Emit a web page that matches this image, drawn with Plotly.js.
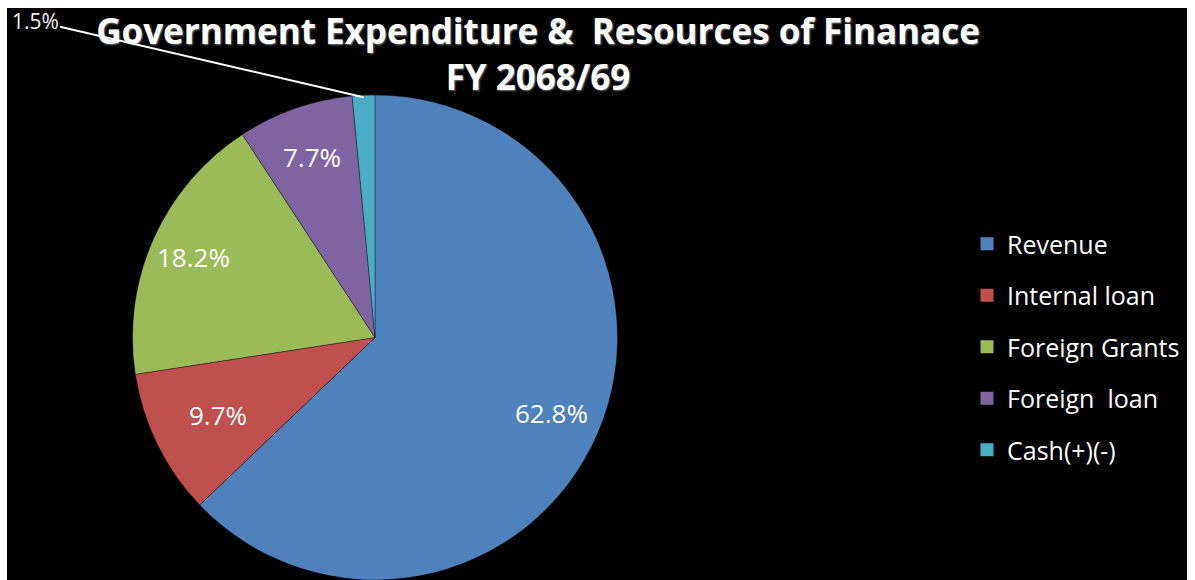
<!DOCTYPE html>
<html>
<head>
<meta charset="utf-8">
<script src="https://cdn.plot.ly/plotly-3.0.1.min.js"></script>
<style>
  html, body { margin: 0; padding: 0; background: #ffffff; width: 1195px; height: 580px; overflow: hidden; }
  #chart { position: absolute; left: 7px; top: 8px; width: 1180px; height: 572px; }
</style>
</head>
<body>
<div id="chart"></div>
<script>
// ---- Data ----
const categories = ["Revenue", "Internal loan", "Foreign Grants", "Foreign  loan", "Cash(+)(-)"];
const shares = [62.8, 9.7, 18.2, 7.7, 1.5];
const sliceColors = ["#4F81BD", "#C0504D", "#9BBB59", "#8064A2", "#4BACC6"];
const titleLines = ["Government Expenditure &amp;  Resources of Finanace", "FY 2068/69"];

// ---- Layout constants ----
const W = 1180, H = 572;
const cx = 368, cy = 330, R = 243;
const LABEL_R = [0.79, 0.72, 0.82, 0.79, 1];   // radial position of labels (fraction of radius)
const FONT = "Open Sans, Noto Sans, sans-serif";

const small = shares.map(v => v < 5);

const pie = {
  type: "pie",
  labels: categories,
  values: shares,
  sort: false,
  direction: "clockwise",
  rotation: 0,
  marker: { colors: sliceColors, line: { color: "rgba(0,0,0,0.35)", width: 1 } },
  textinfo: "none",
  showlegend: false,
  hoverinfo: "label+value",
  domain: { x: [(cx - R) / W, (cx + R) / W], y: [(H - 2 * cy) / H, 1 - (cy - R) / H] }
};

// Legend entries (one group per category so spacing matches)
const legendTraces = categories.map((c, i) => ({
  type: "scatter",
  x: [null], y: [null],
  mode: "markers",
  name: c,
  legendgroup: "g" + i,
  marker: { symbol: "square", size: 13, color: sliceColors[i] },
  hoverinfo: "skip"
}));

// Slice labels, placed at each slice's mid-angle
const total = shares.reduce((a, b) => a + b, 0);
const annotations = [];
let cum = 0;
shares.forEach((v, i) => {
  const mid = (cum + v / 2) / total;
  cum += v;
  const th = 2 * Math.PI * mid;
  const label = v.toFixed(1) + "%";
  if (small[i]) {
    const px = cx + (R - 2) * Math.sin(th);
    const py = cy - (R - 2) * Math.cos(th);
    annotations.push({
      x: px / W, y: 1 - py / H, xref: "paper", yref: "paper",
      text: label,
      showarrow: true, arrowhead: 0, arrowwidth: 2, arrowcolor: "#ffffff",
      ax: 28 - px, ay: 13 - py,
      font: { color: "#f2f2f2", size: 21, family: FONT },
      standoff: 0
    });
  } else {
    const px = cx + LABEL_R[i] * R * Math.sin(th);
    const py = cy - LABEL_R[i] * R * Math.cos(th);
    annotations.push({
      x: px / W, y: 1 - py / H, xref: "paper", yref: "paper",
      text: label, showarrow: false,
      xanchor: "center", yanchor: "middle",
      font: { color: "#ffffff", size: 26, family: FONT }
    });
  }
});

const layout = {
  width: W, height: H,
  paper_bgcolor: "#000000",
  plot_bgcolor: "#000000",
  margin: { l: 0, r: 0, t: 0, b: 0 },
  title: {
    text: "<b>" + titleLines.join("<br>") + "</b>",
    x: 531 / W, xanchor: "center",
    y: 1 - 36 / H, yanchor: "middle",
    font: { family: FONT, size: 35, color: "#ffffff", shadow: "1px 1px 2px #777777" }
  },
  xaxis: { visible: false },
  yaxis: { visible: false },
  showlegend: true,
  legend: {
    x: 960 / W, xanchor: "left",
    y: 1 - 339 / H, yanchor: "middle",
    bgcolor: "rgba(0,0,0,0)",
    font: { family: FONT, size: 25, color: "#ffffff" },
    traceorder: "grouped",
    tracegroupgap: 16,
    itemwidth: 30
  },
  annotations: annotations
};

Plotly.newPlot("chart", [pie].concat(legendTraces), layout, { displayModeBar: false, staticPlot: true });
</script>
</body>
</html>
